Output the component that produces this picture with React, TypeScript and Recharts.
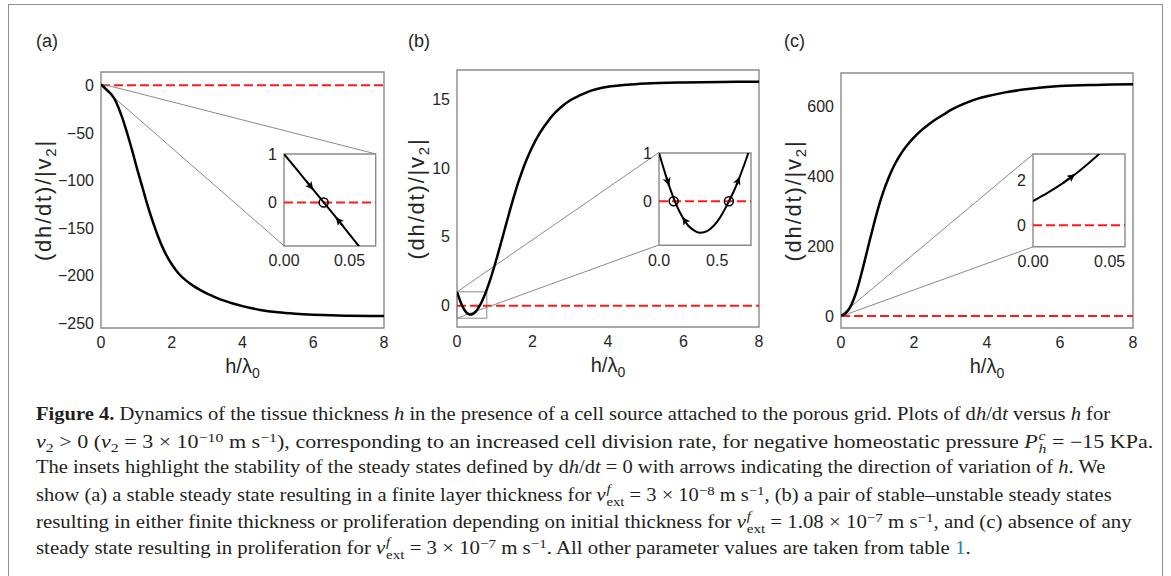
import React, { useLayoutEffect, useRef, useState } from 'react';
import { LineChart, Line, XAxis, YAxis, ReferenceLine, ReferenceArea, ReferenceDot } from 'recharts';

const SANS = '"Liberation Sans", Arial, Helvetica, sans-serif';
const SERIF = '"Liberation Serif", "Times New Roman", serif';
const INK = '#262626';
const FRAME = '#8a8a8a';
const RED = '#ff1a1a';

// ---------- data ----------
const X_TICKS_MAIN = [0, 2, 4, 6, 8];
const Y_TICKS_A = [-250, -200, -150, -100, -50, 0];
const Y_TICKS_B = [0, 5, 10, 15];
const Y_TICKS_C = [0, 200, 400, 600];

const H_A = [0, 0.1, 0.2, 0.3, 0.4, 0.5, 0.6, 0.7, 0.8, 0.9, 1.0, 1.1, 1.2, 1.3, 1.4, 1.5, 1.6, 1.8, 2.0, 2.2, 2.4, 2.6, 2.8, 3.0, 3.25, 3.5, 3.75, 4.0, 4.5, 5, 5.5, 6, 6.5, 7, 8];
const DH_A = [1, -2.5, -6, -10, -15.5, -24, -34, -45.5, -58, -71, -85, -98, -111, -124, -136, -147, -157.5, -175, -188, -198, -205, -210.5, -215, -219, -223, -226.5, -229.5, -232, -236, -238.5, -240, -241, -241.7, -242.1, -242.5];

const H_A_IN = [0, 0.01, 0.02, 0.03, 0.04, 0.05, 0.06, 0.07];
const DH_A_IN = [1, 0.67, 0.34, 0.01, -0.32, -0.66, -1.0, -1.35];
const FIXED_A = [0.0303];
const ARROWS_A = [[0.017, 0.44, 0.022, 0.274], [0.045, -0.485, 0.04, -0.32]];

const H_B = [0, 0.05, 0.1, 0.15, 0.2, 0.25, 0.3, 0.35, 0.4, 0.45, 0.5, 0.55, 0.6, 0.65, 0.7, 0.75, 0.8, 0.9, 1.0, 1.1, 1.2, 1.3, 1.4, 1.5, 1.6, 1.7, 1.8, 1.9, 2.0, 2.2, 2.4, 2.6, 2.8, 3.0, 3.25, 3.5, 4, 4.5, 5, 6, 7, 8];
const DH_B = [1, 0.6, 0.23, -0.08, -0.32, -0.5, -0.6, -0.65, -0.63, -0.55, -0.42, -0.23, 0, 0.25, 0.55, 0.88, 1.25, 2.05, 2.95, 3.9, 4.9, 5.9, 6.9, 7.85, 8.75, 9.55, 10.3, 10.95, 11.55, 12.55, 13.35, 14.0, 14.5, 14.9, 15.25, 15.55, 15.88, 16.03, 16.12, 16.2, 16.23, 16.25];
const FIXED_B = [0.126, 0.6];
const ARROWS_B = [[0.065, 0.49, 0.085, 0.34], [0.228, -0.42, 0.205, -0.338], [0.665, 0.34, 0.69, 0.49]];

const H_C = [0, 0.1, 0.2, 0.3, 0.4, 0.5, 0.6, 0.7, 0.8, 0.9, 1.0, 1.1, 1.2, 1.3, 1.4, 1.5, 1.6, 1.7, 1.8, 2.0, 2.2, 2.4, 2.6, 2.8, 3.0, 3.25, 3.5, 3.75, 4, 4.5, 5, 5.5, 6, 7, 8];
const DH_C = [1, 6, 17, 36, 63, 98, 138, 180, 222, 263, 302, 337, 368, 395, 419, 440, 458, 474, 488, 512, 532, 549, 564, 577, 590, 603, 614, 623, 630, 641, 649, 655, 659, 662.5, 664];

const H_C_IN = [0, 0.01, 0.02, 0.03, 0.04, 0.05];
const DH_C_IN = [1.07, 1.45, 1.88, 2.38, 2.95, 3.6];
const ARROWS_C = [[0.02, 1.88, 0.027, 2.23]];

const toRows = (xs: number[], ys: number[]) => xs.map((x, i) => ({ x, y: ys[i] }));

// ---------- layout ----------
type Box = { left: number; top: number; width: number; height: number; x: [number, number]; y: [number, number] };

const MAIN_A: Box = { left: 101, top: 72, width: 283, height: 256, x: [0, 8], y: [-255, 14] };
const MAIN_B: Box = { left: 457, top: 70, width: 302, height: 257, x: [0, 8], y: [-1.55, 17.1] };
const MAIN_C: Box = { left: 841, top: 73, width: 292, height: 255, x: [0, 8], y: [-34.4, 696.6] };
const INSET_A: Box = { left: 284.3, top: 154, width: 91.7, height: 92, x: [0, 0.07], y: [-0.9, 1] };
const INSET_B: Box = { left: 658.7, top: 152.7, width: 92, height: 92.3, x: [0, 0.79], y: [-0.91, 1] };
const INSET_C: Box = { left: 1033.3, top: 154, width: 92, height: 92.7, x: [0, 0.06], y: [-0.94, 3.14] };

function toData(b: Box, px: number, py: number) {
  return {
    x: b.x[0] + ((px - b.left) / b.width) * (b.x[1] - b.x[0]),
    y: b.y[1] - ((py - b.top) / b.height) * (b.y[1] - b.y[0]),
  };
}

const fmt = (d: number) => (v: number) => {
  const s = Math.abs(v).toFixed(d);
  return v < 0 ? '\u2212' + s : s;
};

const yLabelContent = (gap: number) => (p: any) => {
  const vb = p.viewBox || {};
  const cx = vb.x + vb.width - gap;
  const cy = vb.y + vb.height / 2;
  return (
    <text x={cx} y={cy} dy="0.27em" transform={`rotate(-90 ${cx} ${cy})`} textAnchor="middle"
      fontFamily={SANS} fontSize={22} letterSpacing={1.8} fill={INK}>
      (dh/dt)/|v<tspan dy={5} fontSize={15}>2</tspan><tspan dy={-5}>|</tspan>
    </text>
  );
};

const xLabelContent = (p: any) => {
  const vb = p.viewBox || {};
  const cx = vb.x + vb.width / 2;
  const by = vb.y + 45;
  return (
    <text x={cx} y={by} textAnchor="middle" fontFamily={SANS} fontSize={20} fill={INK}>
      h/λ<tspan dy={5} fontSize={14}>0</tspan>
    </text>
  );
};

function Plot(props: {
  box: Box; yw: number; xh: number; pad: number; xTicks: number[]; yTicks: number[]; xDigits: number;
  yLabelGap?: number; xLabel?: boolean; markerId: string; children?: React.ReactNode;
}) {
  const { box, yw, xh, pad, xTicks, yTicks, xDigits, yLabelGap, xLabel, markerId, children } = props;
  const width = yw + box.width + pad;
  const height = pad + box.height + xh;
  const tickStyle = { fontSize: 16, fill: INK, fontFamily: SANS };
  return (
    <div style={{ position: 'absolute', left: box.left - yw, top: box.top - pad }}>
      <LineChart width={width} height={height} margin={{ top: pad, right: pad, bottom: 0, left: 0 }}>
        <defs>
          <marker id={markerId} viewBox="0 0 10 10" refX="9" refY="5" markerWidth="10" markerHeight="8"
            markerUnits="userSpaceOnUse" orient="auto">
            <path d="M0,0 L10,5 L0,10 L2.5,5 z" fill="#000" />
          </marker>
        </defs>
        <XAxis type="number" dataKey="x" domain={box.x} ticks={xTicks} allowDataOverflow interval={0}
          height={xh} axisLine={false} tickLine={false} tickSize={7} tickMargin={2} tick={tickStyle}
          tickFormatter={fmt(xDigits)} label={xLabel ? xLabelContent : undefined} />
        <YAxis type="number" domain={box.y} ticks={yTicks} allowDataOverflow interval={0}
          width={yw} axisLine={false} tickLine={false} tickSize={5} tickMargin={2} tick={tickStyle}
          tickFormatter={fmt(0)} label={yLabelGap ? yLabelContent(yLabelGap) : undefined} />
        <ReferenceArea x1={box.x[0]} x2={box.x[1]} y1={box.y[0]} y2={box.y[1]} fill="none" fillOpacity={0}
          stroke={FRAME} strokeWidth={1.4} ifOverflow="visible" />
        {children}
      </LineChart>
    </div>
  );
}

const zeroLine = (k: string) => (
  <ReferenceLine key={k} y={0} stroke={RED} strokeWidth={2} strokeDasharray="9 4" />
);

const connector = (k: string, main: Box, from: { x: number; y: number }, px: number, py: number) => (
  <ReferenceLine key={k} segment={[from, toData(main, px, py)]} stroke={FRAME} strokeWidth={1}
    ifOverflow="visible" />
);

const curve = (k: string, rows: { x: number; y: number }[], w: number) => (
  <Line key={k} data={rows} dataKey="y" type="monotone" stroke="#000" strokeWidth={w} dot={false}
    activeDot={false} isAnimationActive={false} />
);

const arrows = (k: string, list: number[][], id: string) =>
  list.map((a, i) => (
    <Line key={`${k}${i}`} data={[{ x: a[0], y: a[1] }, { x: a[2], y: a[3] }]} dataKey="y" type="linear"
      stroke="#000" strokeWidth={2} dot={false} activeDot={false} isAnimationActive={false}
      markerEnd={`url(#${id})`} />
  ));

const fixedDots = (k: string, xs: number[]) =>
  xs.map((x, i) => (
    <ReferenceDot key={`${k}${i}`} x={x} y={0} r={4.5} fill="none" stroke="#000" strokeWidth={1.5} />
  ));

// ---------- caption helpers ----------
const Sb = ({ children }: { children: React.ReactNode }) => (
  <span style={{ fontSize: '0.72em', verticalAlign: '-0.3em', lineHeight: 0 }}>{children}</span>
);
const Sp = ({ children }: { children: React.ReactNode }) => (
  <span style={{ fontSize: '0.72em', verticalAlign: '0.5em', lineHeight: 0 }}>{children}</span>
);
const SubSup = ({ sb, sp }: { sb: React.ReactNode; sp: React.ReactNode }) => (
  <span style={{ display: 'inline-block', verticalAlign: '-0.35em', fontSize: '0.72em', lineHeight: 1, marginLeft: '0.05em' }}>
    <span style={{ display: 'block' }}>{sp}</span>
    <span style={{ display: 'block' }}>{sb}</span>
  </span>
);
const Vext = () => (
  <span><i>v</i><SubSup sb="ext" sp={<i>f</i>} /></span>
);

function FitLine({ top, width, children }: { top: number; width: number; children: React.ReactNode }) {
  const ref = useRef<HTMLSpanElement>(null);
  const [s, setS] = useState(1);
  useLayoutEffect(() => {
    if (ref.current) {
      const w = ref.current.offsetWidth;
      if (w > 0) setS(width / w);
    }
  }, [width]);
  return (
    <div style={{ position: 'absolute', left: 36, top, whiteSpace: 'nowrap', lineHeight: '20px',
      fontFamily: SERIF, fontSize: 18, color: '#231f20', transformOrigin: '0 0', transform: `scaleX(${s})` }}>
      <span ref={ref}>{children}</span>
    </div>
  );
}

const panelLetter = (t: string, left: number) => (
  <div style={{ position: 'absolute', left, top: 30.5, fontFamily: SANS, fontSize: 18, lineHeight: '20px', color: INK }}>{t}</div>
);

export default function App() {
  const a = toRows(H_A, DH_A);
  const aIn = toRows(H_A_IN, DH_A_IN);
  const b = toRows(H_B, DH_B);
  const bIn = b.filter((r) => r.x <= 0.85);
  const c = toRows(H_C, DH_C);
  const cIn = toRows(H_C_IN, DH_C_IN);

  return (
    <div style={{ position: 'absolute', left: 0, top: 0, width: 1171, height: 576, overflow: 'hidden', background: '#fff' }}>
      <div style={{ position: 'absolute', left: 8, top: 4, width: 1155, height: 700, boxSizing: 'border-box', border: '1.5px solid #8f8f8f' }} />
      {panelLetter('(a)', 36)}
      {panelLetter('(b)', 408)}
      {panelLetter('(c)', 784)}

      {/* Panel (a) */}
      <Plot box={MAIN_A} yw={95} xh={60} pad={10} xTicks={X_TICKS_MAIN} yTicks={Y_TICKS_A} xDigits={0} yLabelGap={55.5} xLabel markerId="mA">
        {[
          zeroLine('z'),
          connector('c1', MAIN_A, { x: INSET_A.x[1], y: INSET_A.y[1] }, INSET_A.left + INSET_A.width, INSET_A.top),
          connector('c2', MAIN_A, { x: INSET_A.x[0], y: INSET_A.y[0] }, INSET_A.left, INSET_A.top + INSET_A.height),
          curve('a', a, 2.5),
        ]}
      </Plot>
      <Plot box={INSET_A} yw={40} xh={30} pad={12} xTicks={[0, 0.05]} yTicks={[0, 1]} xDigits={2} markerId="iA">
        {[zeroLine('z'), curve('a', aIn, 2), ...arrows('ar', ARROWS_A, 'iA'), ...fixedDots('fd', FIXED_A)]}
      </Plot>

      {/* Panel (b) */}
      <Plot box={MAIN_B} yw={95} xh={60} pad={10} xTicks={X_TICKS_MAIN} yTicks={Y_TICKS_B} xDigits={0} yLabelGap={39} xLabel markerId="mB">
        {[
          zeroLine('z'),
          <ReferenceArea key="zr" x1={INSET_B.x[0]} x2={INSET_B.x[1]} y1={INSET_B.y[0]} y2={INSET_B.y[1]}
            fill="none" fillOpacity={0} stroke={FRAME} strokeWidth={1} ifOverflow="visible" />,
          connector('c1', MAIN_B, { x: INSET_B.x[0], y: INSET_B.y[1] }, INSET_B.left, INSET_B.top),
          connector('c2', MAIN_B, { x: INSET_B.x[0], y: INSET_B.y[0] }, INSET_B.left, INSET_B.top + INSET_B.height),
          curve('b', b, 2.5),
        ]}
      </Plot>
      <Plot box={INSET_B} yw={40} xh={30} pad={12} xTicks={[0, 0.5]} yTicks={[0, 1]} xDigits={1} markerId="iB">
        {[zeroLine('z'), curve('b', bIn, 2), ...arrows('ar', ARROWS_B, 'iB'), ...fixedDots('fd', FIXED_B)]}
      </Plot>

      {/* Panel (c) */}
      <Plot box={MAIN_C} yw={95} xh={60} pad={10} xTicks={X_TICKS_MAIN} yTicks={Y_TICKS_C} xDigits={0} yLabelGap={46} xLabel markerId="mC">
        {[
          zeroLine('z'),
          connector('c1', MAIN_C, { x: INSET_C.x[0], y: INSET_C.y[1] }, INSET_C.left, INSET_C.top),
          connector('c2', MAIN_C, { x: INSET_C.x[0], y: INSET_C.y[0] }, INSET_C.left, INSET_C.top + INSET_C.height),
          curve('c', c, 2.5),
        ]}
      </Plot>
      <Plot box={INSET_C} yw={40} xh={30} pad={12} xTicks={[0, 0.05]} yTicks={[0, 2]} xDigits={2} markerId="iC">
        {[zeroLine('z'), curve('c', cIn, 2), ...arrows('ar', ARROWS_C, 'iC')]}
      </Plot>

      {/* Caption */}
      <FitLine top={404} width={1074}>
        <b>Figure 4.</b> Dynamics of the tissue thickness <i>h</i> in the presence of a cell source attached to the porous grid. Plots of d<i>h</i>/d<i>t</i> versus <i>h</i> for
      </FitLine>
      <FitLine top={430} width={1117}>
        <i>v</i><Sb>2</Sb> &gt; 0 (<i>v</i><Sb>2</Sb> = 3 × 10<Sp>−10</Sp> m s<Sp>−1</Sp>), corresponding to an increased cell division rate, for negative homeostatic pressure <i>P</i><SubSup sb={<i>h</i>} sp={<i>c</i>} /> = −15 KPa.
      </FitLine>
      <FitLine top={457} width={1069}>
        The insets highlight the stability of the steady states defined by d<i>h</i>/d<i>t</i> = 0 with arrows indicating the direction of variation of <i>h</i>. We
      </FitLine>
      <FitLine top={483} width={1076}>
        show (a) a stable steady state resulting in a finite layer thickness for <Vext /> = 3 × 10<Sp>−8</Sp> m s<Sp>−1</Sp>, (b) a pair of stable–unstable steady states
      </FitLine>
      <FitLine top={510} width={1096}>
        resulting in either finite thickness or proliferation depending on initial thickness for <Vext /> = 1.08 × 10<Sp>−7</Sp> m s<Sp>−1</Sp>, and (c) absence of any
      </FitLine>
      <FitLine top={536} width={935}>
        steady state resulting in proliferation for <Vext /> = 3 × 10<Sp>−7</Sp> m s<Sp>−1</Sp>. All other parameter values are taken from table <span style={{ color: '#2a7fc0' }}>1</span>.
      </FitLine>
    </div>
  );
}
